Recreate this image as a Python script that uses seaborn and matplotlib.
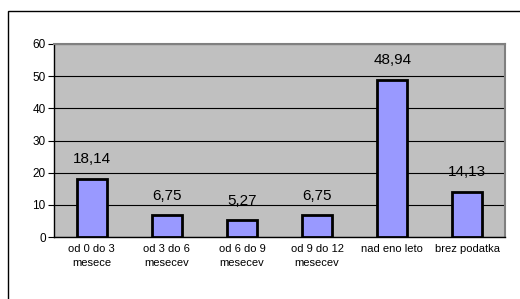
import numpy as np
import pandas as pd
import seaborn as sns
from matplotlib import pyplot as plt
from matplotlib.patches import Rectangle
from matplotlib.ticker import FixedLocator

categories = ['od 0 do 3\nmesece', 'od 3 do 6\nmesecev', 'od 6 do 9\nmesecev',
              'od 9 do 12\nmesecev', 'nad eno leto', 'brez podatka']
values = [18.14, 6.75, 5.27, 6.75, 48.94, 14.13]
labels = ['18,14', '6,75', '5,27', '6,75', '48,94', '14,13']


def main():
    sns.set_style('white')
    plt.rcParams['font.family'] = ['Liberation Sans', 'DejaVu Sans']
    plt.rcParams['text.color'] = 'black'
    plt.rcParams['xtick.color'] = 'black'
    plt.rcParams['ytick.color'] = 'black'

    df = pd.DataFrame({'kat': categories, 'val': values})

    fig = plt.figure(figsize=(5.2, 2.99), dpi=100)
    ax = fig.add_axes([0.104, 0.207, 0.867, 0.646])

    sns.barplot(data=df, x='kat', y='val', color='#9999FF', width=0.4,
                edgecolor='black', linewidth=2, saturation=1, ax=ax, zorder=3)

    ax.set_facecolor('#C0C0C0')
    ax.set_ylim(0, 60)
    ax.set_xlim(-0.5, len(categories) - 0.5)
    ax.set_yticks(range(0, 61, 10))
    ax.yaxis.grid(True, color='black', linewidth=0.8, zorder=0)
    ax.set_axisbelow(True)
    ax.set_xlabel('')
    ax.set_ylabel('')

    # tick marks at category borders, labels in the middle
    ax.tick_params(axis='x', which='major', length=0, labelsize=8, pad=5, labelcolor='black')
    for t in ax.get_xticklabels():
        t.set_linespacing(1.45)
    ax.xaxis.set_minor_locator(FixedLocator(np.arange(-0.5, len(categories), 1.0)))
    ax.tick_params(axis='x', which='minor', length=4, width=0.8, color='black', direction='out')
    ax.tick_params(axis='y', length=4, width=0.8, color='black', direction='out',
                   labelsize=8.5, pad=2, labelcolor='black')
    ax.tick_params(left=True)

    for side in ['top', 'right']:
        ax.spines[side].set_color('#808080')
        ax.spines[side].set_linewidth(1.5)
    for side in ['left', 'bottom']:
        ax.spines[side].set_color('black')
        ax.spines[side].set_linewidth(1)

    for i, (v, lab) in enumerate(zip(values, labels)):
        ax.annotate(lab, (i, v), xytext=(0, 9), textcoords='offset points',
                    ha='center', va='bottom', fontsize=11, color='black')

    fig.patches.append(Rectangle((8 / 520, -0.1), 1.0, 1.1 - 11 / 299, fill=False,
                                 edgecolor='black', linewidth=1, transform=fig.transFigure,
                                 figure=fig, clip_on=False))

    plt.savefig('out.png', dpi=100)


if __name__ == '__main__':
    main()
